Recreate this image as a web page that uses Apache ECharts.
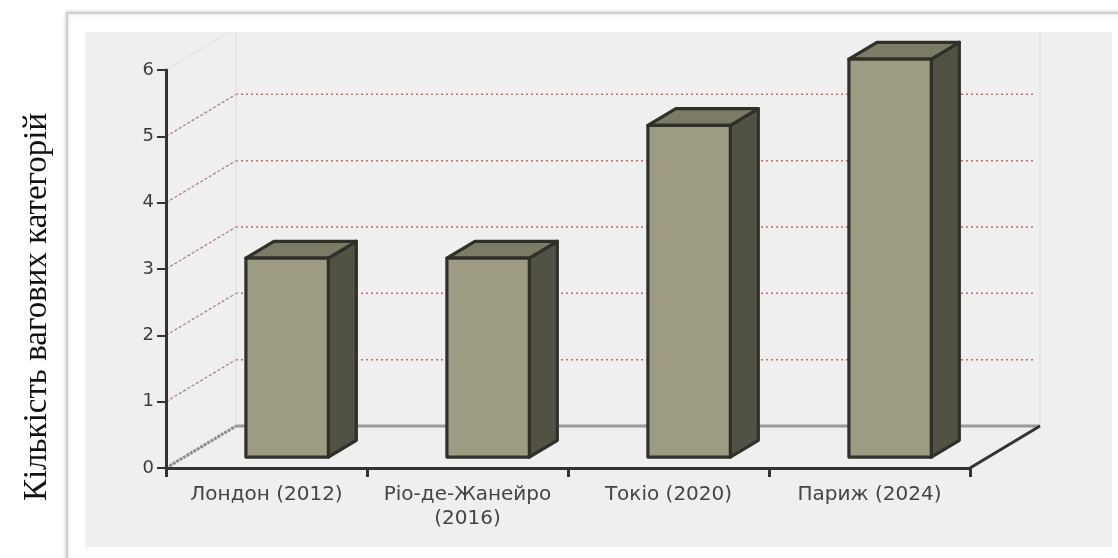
<!DOCTYPE html>
<html>
<head>
<meta charset="utf-8">
<script src="https://cdn.jsdelivr.net/npm/echarts@6/dist/echarts.min.js"></script>
<style>
  html, body { margin: 0; padding: 0; background: #ffffff; }
  #chart { width: 1118px; height: 558px; }
</style>
</head>
<body>
<div id="chart"></div>
<script>
// Olympic games and number of weight categories
const categories = ['Лондон (2012)', 'Ріо-де-Жанейро\n(2016)', 'Токіо (2020)', 'Париж (2024)'];
const values = [3, 3, 5, 6];
const yMin = 0;
const yMax = 6;
const yStep = 1;
const wallGridValues = [1, 2, 3, 4, 5];
const yAxisTitle = 'Кількість вагових категорій';

// pseudo-3D depth of the plot box (pixels)
const DX = 70, DY = -42;
// bar depth span inside the box (fraction of full depth)
const F0 = 0.26, F1 = 0.66;
const PANEL_TOP = 32;

const chart = echarts.init(document.getElementById('chart'), null, { renderer: 'canvas' });

function wallGridItem(params, api) {
  const cs = params.coordSys;
  const y = api.coord([0, api.value(1)])[1];
  const x0 = cs.x;
  return {
    type: 'group',
    children: [
      {
        type: 'line',
        shape: { x1: x0, y1: y, x2: x0 + DX, y2: y + DY },
        style: { stroke: '#b07f8c', lineWidth: 1.3, lineDash: [3, 2] }
      },
      {
        type: 'line',
        shape: { x1: x0 + DX, y1: y + DY, x2: x0 + cs.width + DX - 5, y2: y + DY },
        style: { stroke: '#c86a6a', lineWidth: 1.5, lineDash: [2, 3] }
      }
    ]
  };
}

function floorItem(params, api) {
  const cs = params.coordSys;
  const y0 = api.coord([0, yMin])[1];
  const yTop = api.coord([0, yMax])[1];
  const xl = cs.x, xr = cs.x + cs.width;
  const t = (yTop - PANEL_TOP) / (-DY);
  return {
    type: 'group',
    children: [
      // back wall edges
      { type: 'line', shape: { x1: xl + DX, y1: y0 + DY, x2: xl + DX, y2: PANEL_TOP },
        style: { stroke: '#dcdcdc', lineWidth: 1 } },
      { type: 'line', shape: { x1: xr + DX, y1: y0 + DY, x2: xr + DX, y2: PANEL_TOP },
        style: { stroke: '#dcdcdc', lineWidth: 1 } },
      { type: 'line', shape: { x1: xl, y1: yTop, x2: xl + DX * t, y2: PANEL_TOP },
        style: { stroke: '#dedede', lineWidth: 1 } },
      // floor
      { type: 'line', shape: { x1: xl + DX, y1: y0 + DY, x2: xr + DX, y2: y0 + DY },
        style: { stroke: '#9a9a9a', lineWidth: 3 } },
      { type: 'line', shape: { x1: xl, y1: y0, x2: xl + DX, y2: y0 + DY },
        style: { stroke: '#8c8c8c', lineWidth: 3, lineDash: [3, 1] } },
      { type: 'line', shape: { x1: xr, y1: y0, x2: xr + DX, y2: y0 + DY },
        style: { stroke: '#333333', lineWidth: 3 } }
    ]
  };
}

function barItem(params, api) {
  const i = api.value(0);
  const v = api.value(1);
  const base = api.coord([i, yMin]);
  const top = api.coord([i, v]);
  const bw = api.size([1, 0])[0];
  const x0 = base[0] + F0 * DX - 0.193 * bw;
  const x1 = x0 + 0.41 * bw;
  const yb = base[1] + F0 * DY;
  const yt = top[1] + F0 * DY;
  const ddx = (F1 - F0) * DX;
  const ddy = (F1 - F0) * DY;
  const stroke = { stroke: '#30302b', lineWidth: 3.2, lineJoin: 'round' };
  return {
    type: 'group',
    children: [
      { type: 'polygon',
        shape: { points: [[x1, yt], [x1 + ddx, yt + ddy], [x1 + ddx, yb + ddy], [x1, yb]] },
        style: Object.assign({ fill: '#525244' }, stroke) },
      { type: 'polygon',
        shape: { points: [[x0, yt], [x1, yt], [x1 + ddx, yt + ddy], [x0 + ddx, yt + ddy]] },
        style: Object.assign({ fill: '#7c7b66' }, stroke) },
      { type: 'polygon',
        shape: { points: [[x0, yt], [x1, yt], [x1, yb], [x0, yb]] },
        style: Object.assign({ fill: '#9d9c83' }, stroke) }
    ]
  };
}

const labelFont = '"DejaVu Sans", Verdana, sans-serif';

const option = {
  backgroundColor: '#ffffff',
  animation: false,
  graphic: [
    { type: 'rect', z: -10, shape: { x: 67, y: 13, width: 1080, height: 570 },
      style: { fill: '#ffffff', stroke: '#cfcfcf', lineWidth: 2,
               shadowBlur: 4, shadowColor: 'rgba(0,0,0,0.18)' } },
    { type: 'rect', z: -9, shape: { x: 85, y: 32, width: 1027, height: 515 },
      style: { fill: '#efefef' } },
    { type: 'text', z: 10, x: 37, y: 307, rotation: Math.PI / 2,
      style: { text: yAxisTitle, font: '33px "Liberation Serif", "Times New Roman", serif',
               fill: '#111111', align: 'center', verticalAlign: 'middle' } }
  ],
  grid: { left: 166, top: 70, right: 148, bottom: 90, containLabel: false, outerBoundsMode: 'none' },
  xAxis: {
    type: 'category',
    data: categories,
    boundaryGap: true,
    axisLine: { show: true, lineStyle: { color: '#333333', width: 3 } },
    axisTick: { show: true, length: 9, lineStyle: { color: '#333333', width: 3 } },
    axisLabel: { interval: 0, fontSize: 20, color: '#444444', margin: 15, lineHeight: 24,
                 fontFamily: labelFont },
    splitLine: { show: false },
    z: 5
  },
  yAxis: {
    type: 'value',
    min: yMin, max: yMax, interval: yStep,
    axisLine: { show: true, lineStyle: { color: '#333333', width: 3 } },
    axisTick: { show: true, length: 9, lineStyle: { color: '#333333', width: 2 } },
    axisLabel: { fontSize: 18, color: '#3c3c3c', margin: 12, fontFamily: labelFont },
    splitLine: { show: false },
    z: 5
  },
  series: [
    { name: 'wall', type: 'custom', clip: false, z: 1, silent: true,
      renderItem: wallGridItem,
      data: wallGridValues.map(v => [0, v]),
      encode: { x: 0, y: 1 } },
    { name: 'floor', type: 'custom', clip: false, z: 2, silent: true,
      renderItem: floorItem,
      data: [[0, yMin]],
      encode: { x: 0, y: 1 } },
    { name: 'bars', type: 'custom', clip: false, z: 3,
      renderItem: barItem,
      data: values.map((v, i) => [i, v]),
      encode: { x: 0, y: 1 } }
  ]
};

chart.setOption(option);
</script>
</body>
</html>
